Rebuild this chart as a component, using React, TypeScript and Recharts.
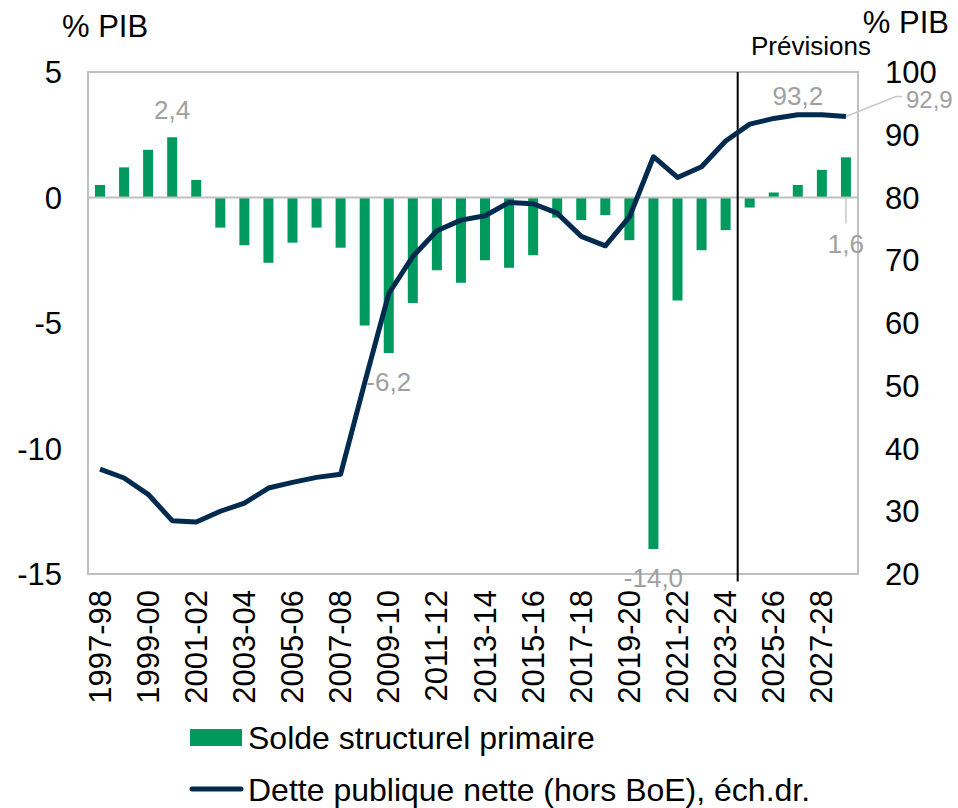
import {
  ComposedChart,
  Bar,
  Line,
  XAxis,
  YAxis,
  ReferenceLine,
  ReferenceArea,
  LabelList,
} from "recharts";

const years = [
  "1997-98", "1998-99", "1999-00", "2000-01", "2001-02", "2002-03", "2003-04", "2004-05",
  "2005-06", "2006-07", "2007-08", "2008-09", "2009-10", "2010-11", "2011-12", "2012-13",
  "2013-14", "2014-15", "2015-16", "2016-17", "2017-18", "2018-19", "2019-20", "2020-21",
  "2021-22", "2022-23", "2023-24", "2024-25", "2025-26", "2026-27", "2027-28", "2028-29",
];

// Solde structurel primaire, % PIB (axe gauche)
const solde = [
  0.5, 1.2, 1.9, 2.4, 0.7, -1.2, -1.9, -2.6, -1.8, -1.2, -2.0, -5.1, -6.2, -4.2, -2.9, -3.4,
  -2.5, -2.8, -2.3, -0.8, -0.9, -0.7, -1.7, -14.0, -4.1, -2.1, -1.3, -0.4, 0.2, 0.5, 1.1, 1.6,
];

// Dette publique nette hors BoE, % PIB (axe droit)
const dette = [
  36.7, 35.3, 32.7, 28.5, 28.3, 30.0, 31.3, 33.7, 34.6, 35.4, 35.9, 50.5, 64.7, 70.6, 74.7, 76.4,
  77.1, 79.2, 79.0, 77.5, 73.8, 72.3, 76.9, 86.5, 83.2, 84.9, 89.0, 91.7, 92.6, 93.2, 93.2, 92.9,
];

const leftTicks = [-15, -10, -5, 0, 5];
const rightTicks = [20, 30, 40, 50, 60, 70, 80, 90, 100];
const lastActual = "2023-24";

const data = years.map((year, i) => ({ year, solde: solde[i], dette: dette[i] }));

const FONT = "'Liberation Sans', Arial, sans-serif";
const GREEN = "#009A5E";
const NAVY = "#002B4F";
const LABEL_GRAY = "#A0A0A0";
const BORDER = "#BFBFBF";

const fmt = (v: number) => v.toFixed(1).replace(".", ",");

function YearTick({ x, y, payload }: any) {
  return (
    <g transform={`translate(${x},${y + 8})`}>
      <text
        transform="rotate(-90)"
        textAnchor="end"
        dominantBaseline="central"
        fontSize={31}
        fill="#000"
      >
        {payload.value}
      </text>
    </g>
  );
}

function BarValueLabel(props: any) {
  const vb = props.viewBox || {};
  const x = props.x ?? vb.x;
  const y = props.y ?? vb.y;
  const width = props.width ?? vb.width;
  const height = props.height ?? vb.height;
  const { index, value } = props;
  const cx = x + width / 2;
  const top = Math.min(y, y + height);
  const bottom = Math.max(y, y + height);
  const style = { fontSize: 26, fill: LABEL_GRAY };
  if (index === 3) {
    return (
      <text x={cx} y={top - 27} textAnchor="middle" dominantBaseline="central" {...style}>
        {fmt(value)}
      </text>
    );
  }
  if (index === 12 || index === 23) {
    return (
      <text x={cx} y={bottom + 29} textAnchor="middle" dominantBaseline="central" {...style}>
        {fmt(value)}
      </text>
    );
  }
  if (index === 31) {
    return (
      <g>
        <line x1={cx} x2={cx} y1={bottom} y2={bottom + 26} stroke="#C8C8C8" strokeWidth={1.5} />
        <text x={cx} y={bottom + 46} textAnchor="middle" dominantBaseline="central" {...style}>
          {fmt(value)}
        </text>
      </g>
    );
  }
  return null;
}

function LineValueLabel(props: any) {
  const vb = props.viewBox || {};
  const x = props.x ?? vb.x;
  const y = props.y ?? vb.y;
  const { index, value } = props;
  if (index === 29) {
    return (
      <text x={x} y={y - 19} textAnchor="middle" dominantBaseline="central" fontSize={26} fill={LABEL_GRAY}>
        {fmt(value)}
      </text>
    );
  }
  if (index === 31) {
    return (
      <g>
        <polyline
          points={`${x},${y} ${x + 50},${y - 20} ${x + 56},${y - 20}`}
          fill="none"
          stroke="#C8C8C8"
          strokeWidth={1.5}
        />
        <text x={x + 60} y={y - 17} textAnchor="start" dominantBaseline="central" fontSize={24} fill={LABEL_GRAY}>
          {fmt(value)}
        </text>
      </g>
    );
  }
  return null;
}

export default function App() {
  return (
    <div
      style={{
        position: "absolute",
        left: 0,
        top: 0,
        width: 958,
        height: 808,
        background: "#fff",
        fontFamily: FONT,
      }}
    >
      <ComposedChart
        width={958}
        height={808}
        data={data}
        margin={{ top: 72, right: 0, bottom: 0, left: 0 }}
        barSize={10}
      >
        <XAxis
          dataKey="year"
          interval={1}
          height={234}
          axisLine={false}
          tickLine={false}
          tick={<YearTick />}
        />
        <YAxis
          yAxisId="left"
          domain={[-15, 5]}
          ticks={leftTicks}
          width={88}
          axisLine={false}
          tickLine={false}
          tickMargin={20}
          tick={{ fontSize: 31, fill: "#000" }}
        />
        <YAxis
          yAxisId="right"
          orientation="right"
          domain={[20, 100]}
          ticks={rightTicks}
          width={100}
          axisLine={false}
          tickLine={false}
          tickMargin={21}
          tick={{ fontSize: 31, fill: "#000" }}
        />
        <ReferenceArea
          yAxisId="left"
          y1={-15}
          y2={5}
          fill="none"
          fillOpacity={0}
          stroke={BORDER}
          strokeWidth={2}
          ifOverflow="visible"
        />
        <ReferenceLine yAxisId="left" y={0} stroke={BORDER} strokeWidth={2} />
        <Bar yAxisId="left" dataKey="solde" fill={GREEN} isAnimationActive={false}>
          <LabelList dataKey="solde" content={<BarValueLabel />} />
        </Bar>
        <ReferenceLine
          yAxisId="left"
          position="end"
          segment={[
            { x: lastActual, y: 5 },
            { x: lastActual, y: -15.3 },
          ]}
          stroke="#000"
          strokeWidth={2}
          ifOverflow="visible"
        />
        <Line
          yAxisId="right"
          type="linear"
          dataKey="dette"
          stroke={NAVY}
          strokeWidth={5}
          strokeLinejoin="round"
          dot={false}
          activeDot={false}
          isAnimationActive={false}
        >
          <LabelList dataKey="dette" content={<LineValueLabel />} />
        </Line>
      </ComposedChart>
      <svg
        width={958}
        height={808}
        style={{ position: "absolute", left: 0, top: 0, pointerEvents: "none" }}
        fontFamily={FONT}
      >
        <text x={62} y={26} fontSize={31} dominantBaseline="central" fill="#000">
          % PIB
        </text>
        <text x={949} y={22} fontSize={31} textAnchor="end" dominantBaseline="central" fill="#000">
          % PIB
        </text>
        <text x={811} y={46} fontSize={26} textAnchor="middle" dominantBaseline="central" fill="#000">
          Prévisions
        </text>
        <rect x={190} y={729} width={52} height={17} fill={GREEN} />
        <text x={248} y={738} fontSize={32} dominantBaseline="central" fill="#000">
          Solde structurel primaire
        </text>
        <line x1={192} x2={241} y1={789} y2={789} stroke={NAVY} strokeWidth={5} strokeLinecap="round" />
        <text x={248} y={790} fontSize={32} dominantBaseline="central" fill="#000">
          Dette publique nette (hors BoE), éch.dr.
        </text>
      </svg>
    </div>
  );
}
